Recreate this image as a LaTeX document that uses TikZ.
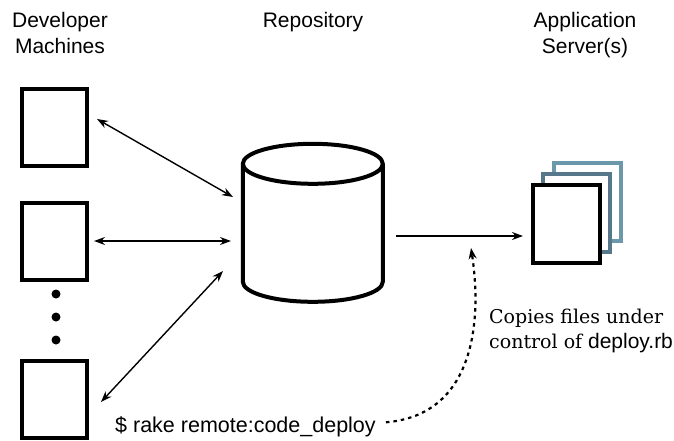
\documentclass[tikz,border=0pt]{standalone}
\usepackage{fontspec}
\setmainfont{Liberation Sans}
\newfontfamily\notefont{DejaVu Serif}
\usetikzlibrary{arrows.meta}
\definecolor{srvblue}{HTML}{6B98AB}
\definecolor{srvslate}{HTML}{56788A}
\tikzset{
  machine/.style={draw, line width=4pt, minimum width=65pt, minimum height=77pt, inner sep=0pt, fill=white},
  server/.style={machine, minimum width=67pt, minimum height=78pt},
  sync/.style={line width=1.4pt, {Stealth[length=11pt,width=8pt]}-{Stealth[length=11pt,width=8pt]}},
  push/.style={line width=1.4pt, -{Stealth[length=11pt,width=8pt]}},
  label/.style={font=\fontsize{21}{26}\selectfont, align=center, anchor=north, inner sep=0pt}
}
\begin{document}
\begin{tikzpicture}[x=1pt, y=-1pt]
  \useasboundingbox (0,0) rectangle (674,440);
  \node[label] (devlabel) at (60,12) {Developer\\Machines};
  \node[label] (repolabel) at (313,12) {Repository};
  \node[label] (srvlabel) at (585,12) {Application\\Server(s)};

  \node[machine] (dev1) at (54.5,127.5) {};
  \node[machine] (dev2) at (54.5,241) {};
  \node[machine] (dev3) at (54.5,399) {};
  \foreach \y in {294,317,340} \fill (56,\y) circle (4.5pt);

  \node[minimum width=140pt, minimum height=158pt, inner sep=0pt] (repo) at (313,223) {};
  \draw[line width=4pt, line join=round] (repo.north west) ++(0,20)
    -- ++(0,118) arc[start angle=180, end angle=360, x radius=70pt, y radius=20pt]
    -- ++(0,-118) arc[start angle=0, end angle=180, x radius=70pt, y radius=20pt]
    arc[start angle=180, end angle=360, x radius=70pt, y radius=20pt];

  \node[server, draw=srvblue] (srv3) at (587,201.5) {};
  \node[server, draw=srvslate] (srv2) at (576.5,212.5) {};
  \node[server] (srv1) at (566.5,224) {};

  \coordinate (r1) at (233,197);
  \coordinate (r2) at (231,241);
  \coordinate (r3) at (223,271);
  \draw[sync] ([xshift=8pt,yshift=8.5pt]dev1.east) -- (r1);
  \draw[sync] ([xshift=5pt]dev2.east) -- (r2);
  \draw[sync] ([xshift=12pt,yshift=-3pt]dev3.east) -- (r3);
  \draw[push] ([xshift=13pt,yshift=-13pt]repo.east) -- ([xshift=-8pt,yshift=-12pt]srv1.west);

  \node[font=\fontsize{21.5}{26}\selectfont, anchor=base west, inner sep=0pt] (rake) at (115,432) {\$ rake remote:code\_deploy};
  \node[font=\fontsize{21}{25}\selectfont, anchor=base west, inner sep=0pt, align=left] (note) at (489,348)
    {{\notefont\fontsize{19}{25}\selectfont Copies files under}\\{\notefont\fontsize{19}{25}\selectfont control of} deploy.rb};
  \coordinate (hook) at (471,248);
  \draw[line width=2.2pt, dash pattern=on 3.5pt off 4pt, -{Stealth[length=11pt,width=8pt]}]
    ([xshift=10pt,yshift=4pt]rake.east) .. controls (475,415) and (482,320) .. (hook);
\end{tikzpicture}
\end{document}
